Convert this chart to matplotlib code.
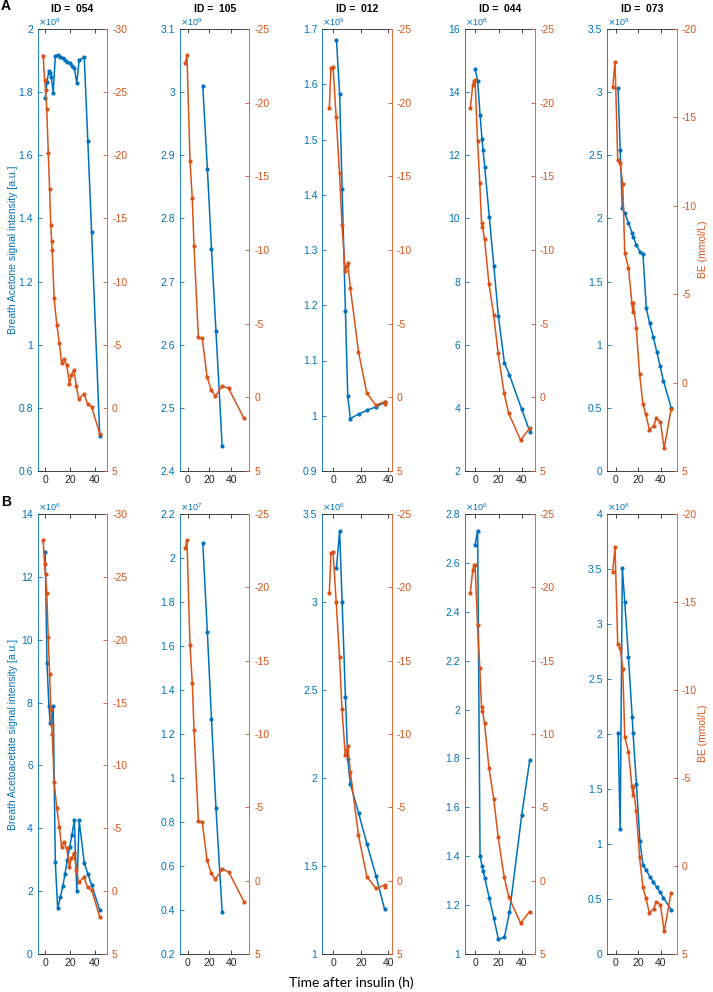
import matplotlib
matplotlib.use("Agg")
import matplotlib.pyplot as plt
import numpy as np
from matplotlib.ticker import FuncFormatter

plt.rcParams['font.family'] = ['Liberation Sans', 'DejaVu Sans']
plt.rcParams['axes.unicode_minus'] = False

BLUE = '#0072BD'
ORANGE = '#D95319'
DARK = '#262626'

ids = ["054", "105", "012", "044", "073"]

# patient 054
t_054 = [0, 1.5, 3.0, 4.1, 5.0, 6.5, 8.2, 10.1, 12.2, 14.2, 16.0, 17.9, 19.8, 21.6, 23.5,
         25.5, 27.4, 31.5, 34.4, 37.4, 44.0]
acetone_054 = [1.78, 1.833, 1.867, 1.862, 1.847, 1.798, 1.914, 1.918, 1.912, 1.907, 1.902,
               1.896, 1.891, 1.884, 1.876, 1.83, 1.902, 1.91, 1.646, 1.358, 0.712]
acac_054 = [12.8, 9.25, 7.9, 7.35, 7.35, 7.9, 2.92, 1.45, 1.8, 2.15, 2.55, 3.0, 3.4, 3.8,
            4.25, 2.0, 4.25, 2.9, 2.55, 2.2, 1.4]
be_t_054 = [-1.6, -0.5, 0.3, 1.3, 2.5, 3.6, 4.5, 5.2, 5.7, 7.2, 9.4, 11.5, 13.2, 15.0, 17.4,
            19.6, 21.2, 23.2, 25.2, 27.0, 31.3, 34.2, 37.4, 44.0]
be_054 = [-27.9, -26.0, -25.2, -23.7, -20.2, -17.3, -14.5, -13.2, -12.5, -8.7, -6.6, -5.1,
          -3.55, -3.9, -3.4, -1.9, -2.6, -3.0, -1.7, -0.7, -1.1, -0.3, -0.1, 2.05]

# patient 105
t_105 = [14.0, 18.2, 22.0, 26.1, 31.8]
acetone_105 = [3.009, 2.879, 2.752, 2.622, 2.44]
acac_105 = [2.067, 1.662, 1.268, 0.865, 0.392]
be_t_105 = [-2.1, -0.6, 2.2, 4.3, 5.9, 9.9, 13.5, 17.9, 21.8, 25.5, 32.0, 37.8, 51.9]
be_105 = [-22.67, -23.23, -16.04, -13.51, -10.29, -4.07, -4.0, -1.40, -0.49, -0.08, -0.78,
          -0.6, 1.43]

# patient 012
t_012 = [2.3, 4.6, 6.4, 8.8, 10.5, 12.4, 18.4, 24.5, 31.0, 37.2]
acetone_012 = [1.680, 1.582, 1.410, 1.19, 1.035, 0.995, 1.003, 1.010, 1.016, 1.024]
acac_012 = [3.195, 3.403, 3.002, 2.462, 2.106, 1.966, 1.80, 1.623, 1.445, 1.256]
be_t_012 = [-2.9, -1.7, -0.2, 2.1, 4.5, 6.3, 8.7, 9.6, 10.5, 12.4, 18.3, 24.4, 31.0, 37.3, 37.5]
be_012 = [-19.62, -22.33, -22.44, -19.0, -15.25, -11.69, -8.55, -8.9, -9.15, -7.40, -3.09,
          -0.27, 0.53, 0.30, 0.46]

# patient 044
t_044 = [-0.3, 1.9, 4.0, 5.7, 6.6, 8.0, 12.0, 15.9, 19.8, 25.0, 29.4, 40.0, 46.9]
acetone_044 = [14.73, 14.36, 13.28, 12.51, 12.17, 11.64, 10.04, 8.49, 6.91, 5.43, 5.04, 3.95, 3.25]
acac_044 = [2.673, 2.732, 1.401, 1.36, 1.341, 1.312, 1.228, 1.146, 1.061, 1.068, 1.17, 1.569, 1.794]
be_t_044 = [-4.4, -2.3, -1.2, -0.3, 1.8, 3.8, 5.3, 6.1, 7.9, 11.7, 15.8, 19.6, 24.8, 28.7, 39.0, 46.7]
be_044 = [-19.62, -21.2, -21.49, -21.54, -17.42, -14.52, -11.81, -11.58, -10.72, -7.69, -5.58,
          -2.98, -0.27, 1.09, 2.9, 2.11]

# patient 073
t_073 = [2.1, 4.0, 5.9, 8.1, 11.4, 14.7, 15.5, 18.5, 21.6, 24.3, 27.3, 30.3, 33.6, 36.6, 39.6,
         42.6, 49.6]
acetone_073 = [3.035, 2.542, 2.08, 2.04, 1.966, 1.882, 1.855, 1.79, 1.737, 1.718, 1.288, 1.169,
               1.059, 0.945, 0.832, 0.713, 0.497]
acac_073 = [2.012, 1.133, 3.506, 3.197, 2.697, 2.152, 2.006, 1.542, 1.027, 0.809, 0.764, 0.703,
            0.657, 0.606, 0.561, 0.512, 0.40]
be_t_073 = [-2.7, -0.6, 1.8, 3.9, 6.3, 8.1, 11.4, 14.4, 15.3, 15.6, 18.3, 21.3, 24.3, 26.8, 30.1,
            33.8, 36.2, 39.9, 43.2, 49.4]
be_073 = [-16.70, -18.15, -12.59, -12.40, -11.22, -7.31, -6.50, -4.52, -4.01, -4.49, -3.11,
          -0.49, 1.22, 1.79, 2.68, 2.44, 2.02, 2.21, 3.72, 1.51]

times = [t_054, t_105, t_012, t_044, t_073]
acetone = [acetone_054, acetone_105, acetone_012, acetone_044, acetone_073]
acac = [acac_054, acac_105, acac_012, acac_044, acac_073]
be_times = [be_t_054, be_t_105, be_t_012, be_t_044, be_t_073]
be = [be_054, be_105, be_012, be_044, be_073]

# axis settings per row / column
left_lims = [[(0.6, 2.0, 0.2), (2.4, 3.1, 0.1), (0.9, 1.7, 0.1), (2, 16, 2), (0, 3.5, 0.5)],
             [(0, 14, 2), (0.2, 2.2, 0.2), (1, 3.5, 0.5), (1, 2.8, 0.2), (0, 4, 0.5)]]
exponents = [[9, 9, 9, 8, 9], [6, 7, 6, 6, 6]]
right_lims = [(-30, 5), (-25, 5), (-25, 5), (-25, 5), (-20, 5)]
x_lims = [(-6, 50), (-7, 57), (-8, 42.5), (-9, 51), (-7.5, 54.5)]
ylabels = ["Breath Acetone signal intensity [a.u.]",
           "Breath Acetoacetate signal intensity [a.u.]"]

W, H = 713, 992
fig = plt.figure(figsize=(W / 100, H / 100), dpi=100)

lefts = [37.7, 180, 322.3, 465, 607.3]
width = 69.5
rows = [(29, 471), (514, 954)]
fmt = FuncFormatter(lambda v, p: f"{round(v, 6):g}")

for r, (top, bot) in enumerate(rows):
    series = acetone if r == 0 else acac
    for c in range(5):
        ax = fig.add_axes([lefts[c] / W, 1 - bot / H, width / W, (bot - top) / H])
        ax.plot(times[c], series[c], color=BLUE, lw=1.1, marker='.', ms=4)
        lo, hi, step = left_lims[r][c]
        ax.set_ylim(lo, hi)
        ax.set_yticks(np.arange(lo, hi + step / 2, step))
        ax.yaxis.set_major_formatter(fmt)
        ax.set_xlim(*x_lims[c])
        ax.set_xticks([0, 20, 40])
        ax.tick_params(axis='y', direction='in', colors=BLUE, labelsize=7.5, length=3, width=0.6)
        ax.tick_params(axis='x', direction='in', colors=DARK, labelsize=7.5, length=3, width=0.6,
                       top=True, pad=3)
        for s in ['top', 'bottom']:
            ax.spines[s].set_color(DARK)
            ax.spines[s].set_linewidth(0.6)
        ax.spines['left'].set_color(BLUE)
        ax.spines['left'].set_linewidth(0.6)
        ax.spines['right'].set_visible(False)
        ax.text(0.0, 1.002, r'$\times\mathregular{10^{%d}}$' % exponents[r][c],
                transform=ax.transAxes, color=BLUE, fontsize=6.5, ha='left', va='bottom')

        ax2 = ax.twinx()
        ax2.plot(be_times[c], be[c], color=ORANGE, lw=1.1, marker='.', ms=4)
        ax2.set_ylim(right_lims[c][1], right_lims[c][0])
        ax2.set_yticks(np.arange(right_lims[c][0], right_lims[c][1] + 1, 5))
        ax2.tick_params(axis='y', direction='in', colors=ORANGE, labelsize=7.5, length=3,
                        width=0.6)
        for s in ['top', 'bottom', 'left']:
            ax2.spines[s].set_visible(False)
        ax2.spines['right'].set_color(ORANGE)
        ax2.spines['right'].set_linewidth(0.6)

        if r == 0:
            ax.set_title(f"ID =  {ids[c]}", fontsize=7.5, fontweight='bold', pad=12.5)

    fig.text(13.3 / W, 1 - (top + bot) / 2 / H, ylabels[r], rotation=90, color=BLUE,
             fontsize=7.5, ha='center', va='center')
    fig.text(702.5 / W, 1 - ((top + bot) / 2 - 1) / H, "BE (mmol/L)", rotation=90,
             color=ORANGE, fontsize=7.5, ha='center', va='center')

fig.text(1 / W, 1 - 6.5 / H, "A", fontsize=10, fontweight='bold', ha='left', va='center')
fig.text(1 / W, 1 - 502 / H, "B", fontsize=10, fontweight='bold', ha='left', va='center')
fig.text(351 / W, 1 - 983 / H, "Time after insulin (h)", fontsize=10, ha='center', va='center',
         family=['Lato', 'DejaVu Sans'])

fig.savefig("out.png", dpi=100)
